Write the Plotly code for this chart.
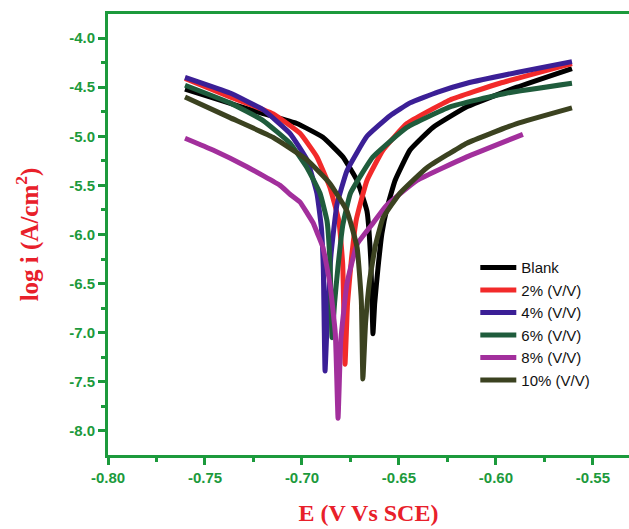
import plotly.graph_objects as go

# Data (E in V vs SCE, log i in A/cm^2)
E_blank = [-0.7603, -0.7459, -0.7200, -0.7026, -0.6892, -0.6789, -0.6716, -0.6665, -0.6645, -0.6634,
           -0.6625, -0.6608, -0.6588, -0.6560, -0.6520, -0.6443, -0.6325, -0.6150, -0.5892, -0.5608]
L_blank = [-4.52, -4.61, -4.77, -4.87, -5.01, -5.21, -5.45, -5.76, -6.27, -7.01,
           -6.70, -6.34, -5.99, -5.72, -5.45, -5.14, -4.91, -4.70, -4.50, -4.31]

E_2 = [-0.7603, -0.7371, -0.7150, -0.7010, -0.6923, -0.6856, -0.6810, -0.6790, -0.6778,
       -0.6765, -0.6745, -0.6720, -0.6665, -0.6582, -0.6459, -0.6237, -0.5980, -0.5608]
L_2 = [-4.41, -4.60, -4.77, -4.97, -5.21, -5.52, -5.86, -6.30, -7.32,
       -6.70, -6.25, -5.85, -5.45, -5.14, -4.87, -4.63, -4.46, -4.26]

E_4 = [-0.7603, -0.7371, -0.7200, -0.7062, -0.6974, -0.6923, -0.6900, -0.6890, -0.6881,
       -0.6868, -0.6850, -0.6820, -0.6768, -0.6665, -0.6546, -0.6443, -0.6300, -0.6150, -0.5892, -0.5608]
L_4 = [-4.40, -4.56, -4.73, -4.97, -5.24, -5.58, -5.93, -6.34, -7.39,
       -6.80, -6.20, -5.70, -5.35, -5.00, -4.79, -4.66, -4.55, -4.46, -4.35, -4.24]

E_6 = [-0.7603, -0.7371, -0.7200, -0.7062, -0.6974, -0.6907, -0.6871, -0.6855, -0.6845,
       -0.6832, -0.6815, -0.6789, -0.6750, -0.6634, -0.6459, -0.6237, -0.5943, -0.5608]
L_6 = [-4.48, -4.66, -4.84, -5.07, -5.32, -5.58, -5.86, -6.30, -7.05,
       -6.70, -6.34, -5.90, -5.58, -5.21, -4.91, -4.70, -4.56, -4.46]

E_8 = [-0.7603, -0.7459, -0.7284, -0.7113, -0.7062, -0.7010, -0.6974, -0.6943, -0.6918, -0.6892,
       -0.6856, -0.6828, -0.6814,
       -0.6800, -0.6768, -0.6716, -0.6640, -0.6562, -0.6407, -0.6150, -0.5861]
L_8 = [-5.02, -5.14, -5.31, -5.50, -5.59, -5.67, -5.78, -5.88, -6.00, -6.13,
       -6.50, -7.01, -7.87,
       -7.08, -6.50, -6.10, -5.90, -5.70, -5.45, -5.21, -4.98]

E_10 = [-0.7603, -0.7371, -0.7150, -0.6974, -0.6856, -0.6768, -0.6716, -0.6694, -0.6686,
        -0.6672, -0.6650, -0.6620, -0.6582, -0.6495, -0.6356, -0.6150, -0.5892, -0.5608]
L_10 = [-4.60, -4.81, -5.01, -5.24, -5.48, -5.76, -6.13, -6.67, -7.47,
        -6.90, -6.45, -6.10, -5.83, -5.58, -5.32, -5.07, -4.87, -4.71]

names = ["Blank", "2% (V/V)", "4% (V/V)", "6% (V/V)", "8% (V/V)", "10% (V/V)"]
colors = ["#000000", "#f22a2a", "#3b1f96", "#1f5c3c", "#a22f9c", "#3b4220"]
series = [(E_blank, L_blank), (E_2, L_2), (E_4, L_4), (E_6, L_6), (E_8, L_8), (E_10, L_10)]

x_ticks = [-0.80, -0.75, -0.70, -0.65, -0.60, -0.55]
x_labels = ["-0.80", "-0.75", "-0.70", "-0.65", "-0.60", "-0.55"]
y_ticks = [-4.0, -4.5, -5.0, -5.5, -6.0, -6.5, -7.0, -7.5, -8.0]
y_labels = ["-4.0", "-4.5", "-5.0", "-5.5", "-6.0", "-6.5", "-7.0", "-7.5", "-8.0"]

fig = go.Figure()
for (ex, ly), nm, c in zip(series, names, colors):
    fig.add_trace(go.Scatter(x=ex, y=ly, name=nm, mode="lines",
                             line=dict(color=c, width=5, shape="spline", smoothing=0.35)))

green = "#1c9a3c"
axis_common = dict(showline=True, linecolor=green, linewidth=3, ticks="outside",
                   tickcolor=green, tickwidth=3, ticklen=7, showgrid=False, zeroline=False,
                   tickfont=dict(family="Liberation Sans, Arial", size=15, color=green, weight="bold"))

fig.update_layout(
    width=629, height=529,
    margin=dict(l=108, r=0, t=14, b=74),
    plot_bgcolor="white", paper_bgcolor="white",
    showlegend=True,
    legend=dict(x=0.705, y=0.462, xanchor="left", yanchor="top", bgcolor="rgba(0,0,0,0)",
                font=dict(family="Liberation Sans, Arial", size=15, color="#111111"),
                tracegroupgap=0, itemwidth=36),
    xaxis=dict(range=[-0.80, -0.5314], tickvals=x_ticks, ticktext=x_labels, mirror=True,
               minor=dict(dtick=0.025, ticks="outside", ticklen=4, tickcolor=green, tickwidth=3),
               title=dict(text="E (V Vs SCE)", standoff=20,
                          font=dict(family="Liberation Serif, Times New Roman", size=24,
                                    color="#e8202a", weight="bold")),
               **axis_common),
    yaxis=dict(range=[-8.245, -3.755], tickvals=y_ticks, ticktext=y_labels,
               minor=dict(dtick=0.25, ticks="outside", ticklen=4, tickcolor=green, tickwidth=3),
               title=dict(text="log i (A/cm<sup>2</sup>)", standoff=24,
                          font=dict(family="Liberation Serif, Times New Roman", size=25,
                                    color="#e8202a", weight="bold")),
               **axis_common),
)

fig.write_html("out.html")
